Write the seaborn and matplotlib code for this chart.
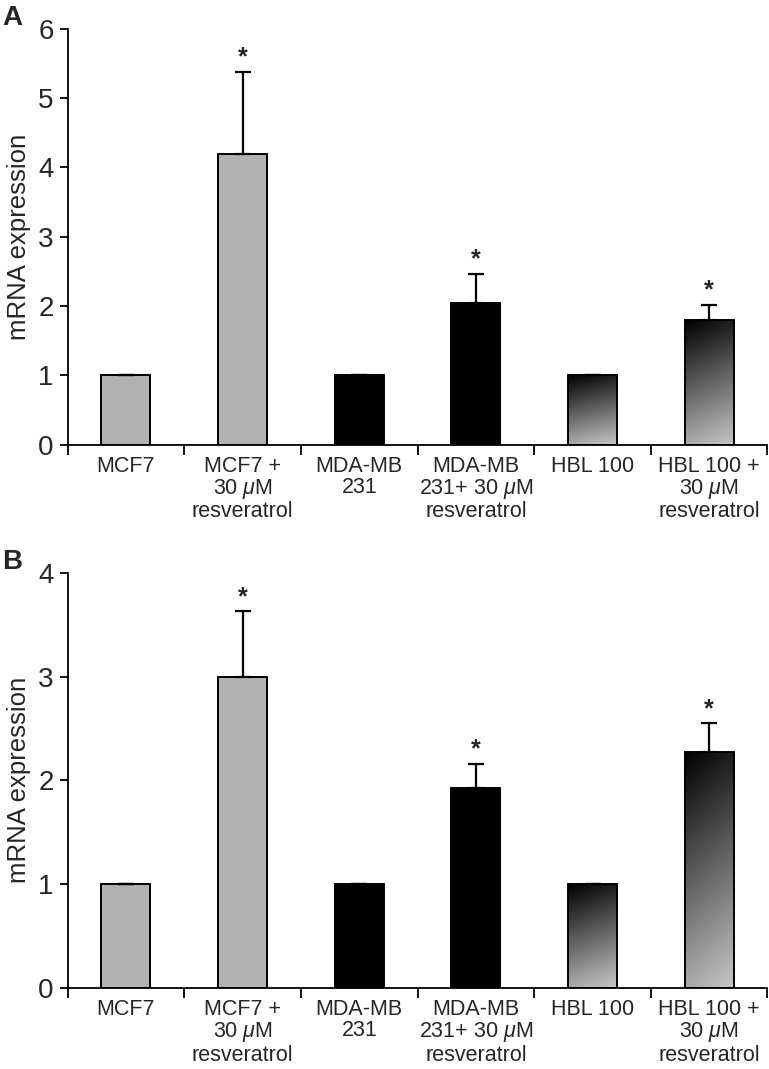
import numpy as np
import pandas as pd
import matplotlib
matplotlib.use('Agg')
import matplotlib.pyplot as plt
import seaborn as sns

# Data
groups = ['MCF7', 'MCF7 +\n30 $\\mu$M\nresveratrol', 'MDA-MB\n231',
          'MDA-MB\n231+ 30 $\\mu$M\nresveratrol', 'HBL 100',
          'HBL 100 +\n30 $\\mu$M\nresveratrol']
expr_a = [1.0, 4.2, 1.0, 2.05, 1.0, 1.8]
err_a = [0, 1.18, 0, 0.42, 0, 0.22]
expr_b = [1.0, 3.0, 1.0, 1.93, 1.0, 2.27]
err_b = [0, 0.63, 0, 0.23, 0, 0.28]
signif = [False, True, False, True, False, True]
bar_colors = ['#b1b1b1', '#b1b1b1', '#000000', '#000000', '#777777', '#777777']
gradient_bars = [4, 5]

sns.set_style('white')
plt.rcParams['font.family'] = ['Liberation Sans', 'DejaVu Sans']
plt.rcParams['mathtext.fontset'] = 'custom'
plt.rcParams['mathtext.rm'] = 'Liberation Sans'
plt.rcParams['mathtext.it'] = 'Liberation Sans:italic'

fig = plt.figure(figsize=(7.69, 10.69), dpi=100)
ax_a = fig.add_axes([0.088, 0.584, 0.91, 0.389])
ax_b = fig.add_axes([0.088, 0.076, 0.91, 0.388])


def draw_panel(ax, vals, errs, ymax, letter):
    df = pd.DataFrame({'group': groups, 'value': vals})
    sns.barplot(data=df, x='group', y='value', hue='group', palette=bar_colors,
                legend=False, width=0.42, edgecolor='black', linewidth=1.4,
                saturation=1, errorbar=None, ax=ax)
    x = np.arange(len(groups))
    # upper error bars only
    ax.errorbar(x, vals, yerr=[np.zeros(len(errs)), errs], fmt='none',
                ecolor='black', elinewidth=1.6, capsize=5.5, capthick=1.6, zorder=3)
    for i, (v, e, s) in enumerate(zip(vals, errs, signif)):
        if s:
            ax.text(i, v + e + ymax * 0.006, '*', ha='center', va='bottom',
                    fontsize=18, fontweight='bold')
    # gradient fill for HBL bars: black at top-left to light grey bottom-right
    for i in gradient_bars:
        patch = ax.patches[i]
        x0, w, h = patch.get_x(), patch.get_width(), patch.get_height()
        yy, xx = np.mgrid[0:1:200j, 0:1:40j]
        grad = 0.78 * (0.85 * (1 - yy) + 0.15 * xx)
        im = ax.imshow(grad, cmap='gray', vmin=0, vmax=1, aspect='auto',
                       extent=[x0, x0 + w, 0, h], origin='lower', zorder=1.5)
        im.set_clip_path(patch)
        patch.set_facecolor('none')
        patch.set_zorder(2)
    ax.set_xlim(-0.5, len(groups) - 0.5)
    ax.set_ylim(0, ymax)
    ax.set_yticks(range(0, ymax + 1))
    ax.set_xticks(np.arange(-0.5, len(groups), 1.0), minor=True)
    ax.tick_params(axis='x', which='major', length=0, labelsize=15.5, pad=8)
    ax.tick_params(axis='x', which='minor', length=7, width=1.3, direction='out',
                   bottom=True, color='black')
    ax.tick_params(axis='y', length=6, width=1.3, direction='out', labelsize=20,
                   left=True, color='black', pad=4)
    for t in ax.get_xticklabels():
        t.set_linespacing(1.02)
    ax.set_xlabel('')
    ax.set_ylabel('mRNA expression', fontsize=18.5)
    ax.yaxis.set_label_coords(-0.053, 0.5)
    sns.despine(ax=ax)
    for sp in ['left', 'bottom']:
        ax.spines[sp].set_color('black')
        ax.spines[sp].set_linewidth(1.3)
    ax.text(-0.093, 1.026, letter, transform=ax.transAxes, fontsize=20,
            fontweight='bold', ha='left', va='center')


draw_panel(ax_a, expr_a, err_a, 6, 'A')
draw_panel(ax_b, expr_b, err_b, 4, 'B')

fig.savefig('out.png', dpi=100)
